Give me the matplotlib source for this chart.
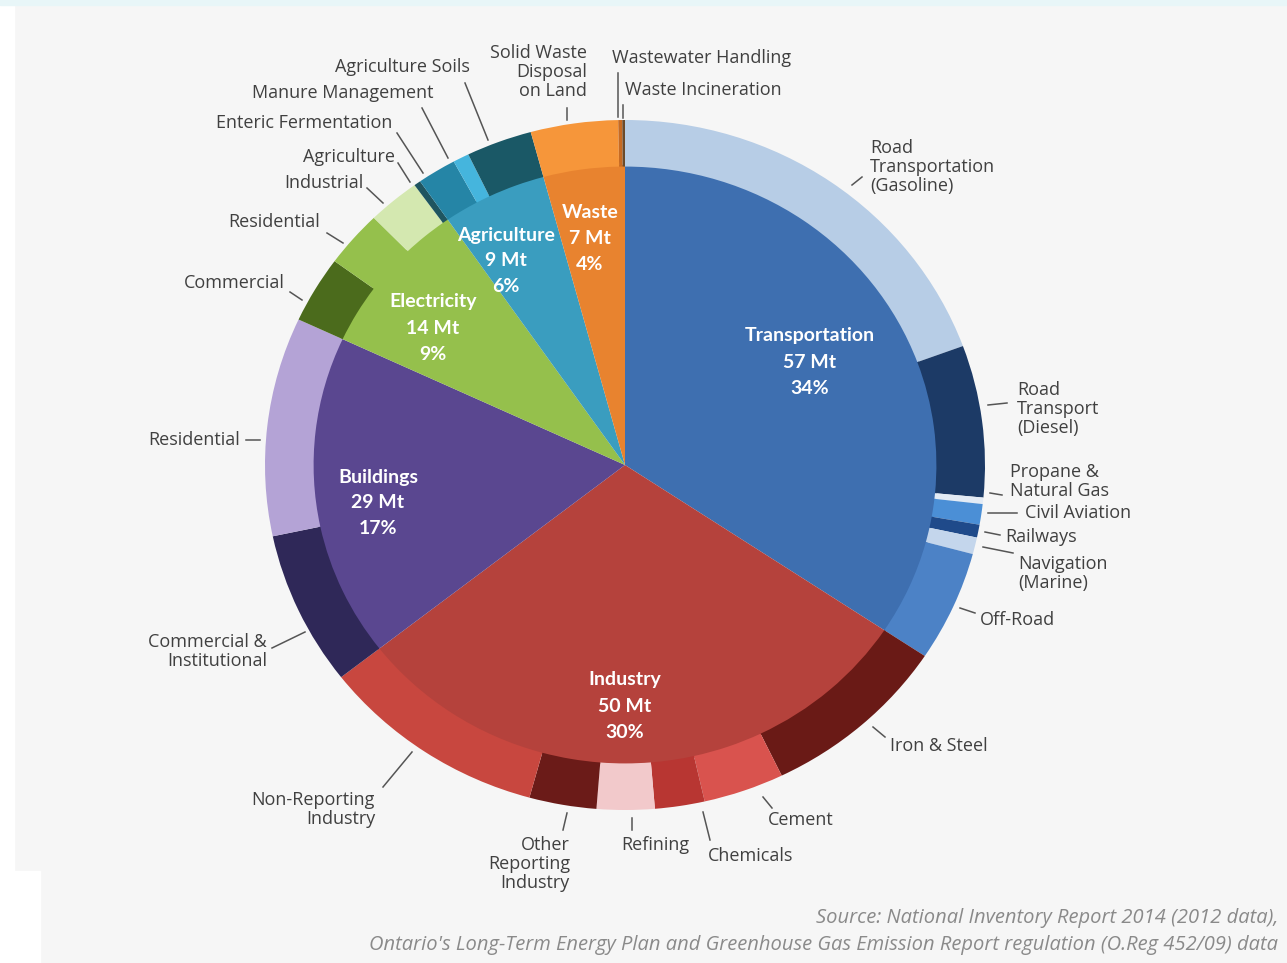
import matplotlib
matplotlib.use("Agg")
import matplotlib.pyplot as plt
from matplotlib.patches import Rectangle

W, H = 1287, 963

# ---- data (Mt CO2e, Ontario 2012) -------------------------------------------
sectors = ["Transportation", "Industry", "Buildings", "Electricity", "Agriculture", "Waste"]
sector_mt = [57, 50, 29, 14, 9, 7]
sector_pct = [34, 30, 17, 9, 6, 4]
sector_colors = ["#3e6fb0", "#b5423c", "#5a4790", "#95c04c", "#3a9dbf", "#e8832f"]

# outer ring, clockwise from 12 o'clock (same order as sectors)
sub_names = [
    "Road Transportation (Gasoline)", "Road Transport (Diesel)", "Propane & Natural Gas",
    "Civil Aviation", "Railways", "Navigation (Marine)", "Off-Road",
    "Iron & Steel", "Cement", "Chemicals", "Refining", "Other Reporting Industry",
    "Non-Reporting Industry",
    "Commercial & Institutional", "Residential",
    "Commercial", "Residential", "Industrial", "Agriculture",
    "Enteric Fermentation", "Manure Management", "Agriculture Soils",
    "Solid Waste Disposal on Land", "Wastewater Handling", "Waste Incineration",
]
sub_mt = [
    32.2, 11.8, 0.5, 1.6, 1.0, 1.3, 8.6,
    14.1, 6.0, 3.7, 4.3, 5.0, 16.9,
    12.0, 17.0,
    5.2, 4.4, 3.9, 0.5,
    2.9, 1.2, 4.9,
    6.5, 0.3, 0.2,
]
sub_colors = [
    "#b7cde6", "#1c3a66", "#e3ebf5", "#4b8fd6", "#1f4a8a", "#c4d6ec", "#4c82c6",
    "#6a1a16", "#d9534e", "#b83632", "#f2c9cb", "#6b1b18", "#c8473f",
    "#2f2858", "#b4a3d6",
    "#4b6b1c", "#95c04c", "#d4e8b0", "#1f5560",
    "#2585a6", "#45b5dd", "#1a5866",
    "#f6963a", "#c76a22", "#6b4a2a",
]

# ---- figure -----------------------------------------------------------------
fig = plt.figure(figsize=(W / 100, H / 100), dpi=100)
fig.patch.set_facecolor("#f6f6f6")
fig.add_artist(Rectangle((0, 0), 14 / W, 1, transform=fig.transFigure,
                         color="white", zorder=0))
fig.add_artist(Rectangle((0, 0), 40 / W, 92 / H, transform=fig.transFigure,
                         color="white", zorder=0))
fig.add_artist(Rectangle((0, 1 - 5 / H), 1, 5 / H, transform=fig.transFigure,
                         color="#e8f6f8", zorder=0))

# pie box: centre (625, 465) px, radius 360 px wide / 345 px tall
ax = fig.add_axes([265 / W, 1 - 810 / H, 720 / W, 690 / H])
ax.pie(sector_mt, radius=0.87, startangle=90, counterclock=False,
       colors=sector_colors, wedgeprops=dict(linewidth=0))
ax.pie(sub_mt, radius=1.0, startangle=90, counterclock=False,
       colors=sub_colors, wedgeprops=dict(width=0.135, linewidth=0))
ax.set_xlim(-1, 1)
ax.set_ylim(-1, 1)
ax.set_aspect("auto")
ax.axis("off")

# overlay in pixel coordinates for labels and leader lines
ov = fig.add_axes([0, 0, 1, 1])
ov.set_xlim(0, W)
ov.set_ylim(H, 0)
ov.axis("off")

OUT_FONT = ["Open Sans", "DejaVu Sans"]
IN_FONT = ["Lato", "DejaVu Sans"]
GREY = "#404040"

# sector labels inside the pie: (x, first line y)
inner_pos = [(810, 336), (625, 680), (378, 477), (433, 302), (506, 235), (590, 212)]
for name, mt, pct, (x, y) in zip(sectors, sector_mt, sector_pct, inner_pos):
    for k, s in enumerate([name, f"{mt} Mt", f"{pct}%"]):
        ov.text(x, y + k * 26, s, ha="center", va="center", color="white",
                fontsize=14, fontweight="bold", family=IN_FONT)

# subsector labels: lines, x, first line y, align, leader line
labels = [
    (["Road", "Transportation", "(Gasoline)"], 870, 148, "left", (852, 185, 862, 177)),
    (["Road", "Transport", "(Diesel)"], 1017, 390, "left", (988, 405, 1007, 403)),
    (["Propane &", "Natural Gas"], 1010, 472, "left", (990, 493, 1002, 495)),
    (["Civil Aviation"], 1025, 513, "left", (988, 513, 1017, 513)),
    (["Railways"], 1005, 537, "left", (985, 532, 1000, 535)),
    (["Navigation", "(Marine)"], 1018, 564, "left", (983, 547, 1013, 553)),
    (["Off-Road"], 980, 620, "left", (960, 608, 975, 613)),
    (["Iron & Steel"], 890, 746, "left", (873, 727, 885, 737)),
    (["Cement"], 768, 820, "left", (763, 797, 772, 808)),
    (["Chemicals"], 708, 856, "left", (703, 812, 710, 840)),
    (["Refining"], 655, 845, "center", (632, 818, 632, 830)),
    (["Other", "Reporting", "Industry"], 570, 845, "right", (567, 813, 563, 830)),
    (["Non-Reporting", "Industry"], 375, 800, "right", (383, 787, 412, 752)),
    (["Commercial &", "Institutional"], 267, 642, "right", (272, 648, 305, 632)),
    (["Residential"], 240, 440, "right", (246, 440, 260, 440)),
    (["Commercial"], 285, 283, "right", (290, 292, 302, 300)),
    (["Residential"], 320, 222, "right", (327, 233, 343, 243)),
    (["Industrial"], 363, 183, "right", (367, 188, 383, 203)),
    (["Agriculture"], 395, 157, "right", (398, 163, 410, 182)),
    (["Enteric Fermentation"], 392, 123, "right", (397, 133, 423, 173)),
    (["Manure Management"], 433, 93, "right", (422, 108, 448, 158)),
    (["Agriculture Soils"], 470, 67, "right", (465, 83, 488, 140)),
    (["Solid Waste", "Disposal", "on Land"], 587, 53, "right", (567, 108, 567, 120)),
    (["Wastewater Handling"], 612, 58, "left", (618, 73, 618, 117)),
    (["Waste Incineration"], 625, 90, "left", (623, 105, 623, 118)),
]
for lines, x, y, ha, (x1, y1, x2, y2) in labels:
    for k, s in enumerate(lines):
        ov.text(x, y + k * 19, s, ha=ha, va="center", color=GREY,
                fontsize=13, family=OUT_FONT)
    ov.plot([x1, x2], [y1, y2], color="#555555", lw=1.1)

ov.text(1278, 918, "Source: National Inventory Report 2014 (2012 data),",
        ha="right", va="center", color="#8a8a8a", fontsize=14.5,
        style="italic", family=OUT_FONT)
ov.text(1278, 945, "Ontario's Long-Term Energy Plan and Greenhouse Gas Emission "
        "Report regulation (O.Reg 452/09) data",
        ha="right", va="center", color="#8a8a8a", fontsize=14.5,
        style="italic", family=OUT_FONT)

fig.savefig("out.png", dpi=100, facecolor=fig.get_facecolor())
